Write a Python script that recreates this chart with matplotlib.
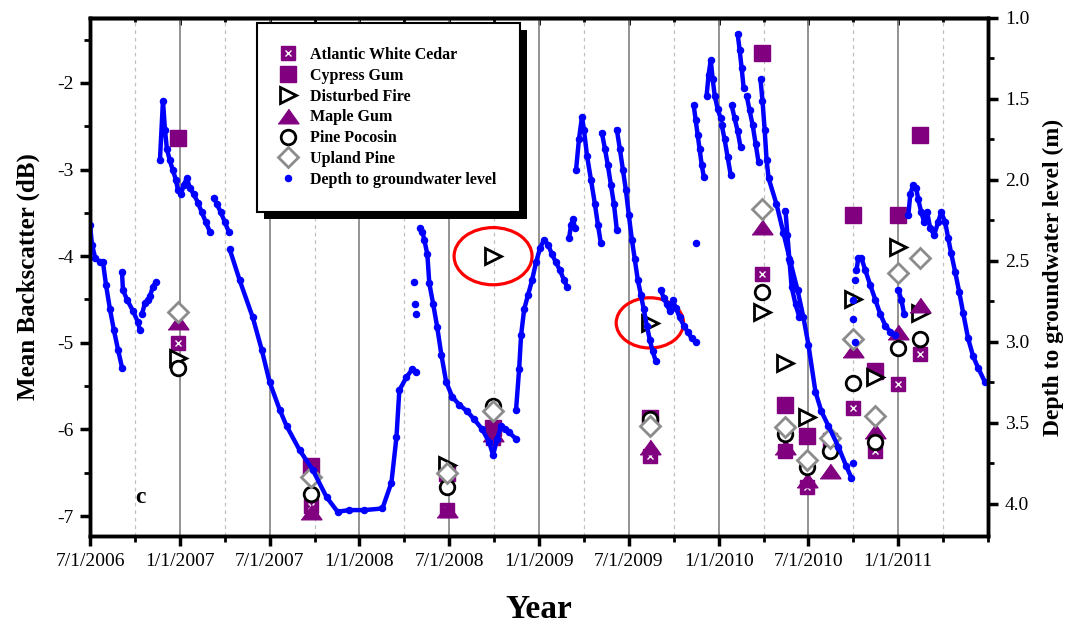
import numpy as np
import matplotlib
matplotlib.use('Agg')
import matplotlib.pyplot as plt
from matplotlib.patches import Ellipse, Rectangle
from matplotlib.lines import Line2D
from matplotlib.ticker import MultipleLocator, FormatStrFormatter
from matplotlib.transforms import IdentityTransform

plt.rcParams['font.family'] = ['Liberation Serif', 'DejaVu Serif']
plt.rcParams['axes.unicode_minus'] = False

N = np.nan

# SAR acquisition dates (decimal year) and mean backscatter (dB) per forest type
obs_year = [2006.989, 2007.733, 2008.489, 2008.744, 2009.617, 2010.244, 2010.372,
            2010.494, 2010.622, 2010.750, 2010.872, 2011.000, 2011.122]
white_cedar = [-5.00, -6.88, -6.93, -6.10, -6.31, -4.21, -6.25, -6.66, -6.12, -5.75, -6.25, -5.48, -5.13]
cypress_gum = [-2.63, -6.42, -6.50, -5.98, -5.87, -1.65, -5.72, -6.08, N, -3.52, -5.32, -3.52, -2.60]
disturbed_fire = [-5.17, N, -6.41, -4.00, -4.77, -4.65, -5.23, -5.86, N, -4.50, -5.40, -3.89, -4.66]
maple_gum = [-4.76, -6.95, -6.93, -6.05, -6.20, -3.66, -6.20, -6.58, -6.48, -5.08, -6.02, -4.87, -4.56]
pine_pocosin = [-5.29, -6.75, -6.66, -5.73, -5.88, -4.41, -6.05, -6.43, -6.25, -5.46, -6.15, -5.06, -4.96]
upland_pine = [-4.65, -6.55, -6.50, -5.79, -5.96, -3.46, -5.97, -6.35, -6.10, -4.96, -5.85, -4.19, -4.02]

# depth to groundwater (m); NaN separates runs of readings
gw_year = [
    2006.500, 2006.511, 2006.528, 2006.556, 2006.572, 2006.589, 2006.611, 2006.633, 2006.656, 2006.678, N,
    2006.678, 2006.683, 2006.706, 2006.739, 2006.767, 2006.778, N,
    2006.789, 2006.806, 2006.822, 2006.833, 2006.850, 2006.867, N,
    2006.889, 2006.906, 2006.917, 2006.928, 2006.944, 2006.961, 2006.978, 2006.989, 2007.006, 2007.022,
    2007.039, 2007.056, 2007.078, 2007.100, 2007.122, 2007.144, 2007.167, N,
    2007.189, 2007.206, 2007.228, 2007.250, 2007.272, N,
    2007.278, 2007.333, 2007.406, 2007.456, 2007.500, 2007.556, 2007.594, 2007.667, 2007.739, 2007.817,
    2007.878, 2007.944, 2008.028, 2008.128, 2008.178, 2008.206, 2008.222, 2008.261, 2008.294, 2008.317, N,
    2008.306, N, 2008.311, N, 2008.317, N,
    2008.339, 2008.350, 2008.361, 2008.378, 2008.389, 2008.411, 2008.433, 2008.456, 2008.483, 2008.517,
    2008.556, 2008.600, 2008.639, 2008.683, 2008.722, 2008.744, 2008.767, 2008.789, 2008.811, 2008.833,
    2008.872, N,
    2008.872, 2008.889, 2008.900, 2008.917, 2008.939, 2008.961, 2008.983, 2009.006, 2009.028, 2009.050,
    2009.072, 2009.094, 2009.117, 2009.139, 2009.156, N,
    2009.167, 2009.178, 2009.189, 2009.200, N,
    2009.206, 2009.222, 2009.239, 2009.250, 2009.267, 2009.289, 2009.311, 2009.328, 2009.344, N,
    2009.350, 2009.367, 2009.383, 2009.400, 2009.417, 2009.433, N,
    2009.433, 2009.450, 2009.467, 2009.483, 2009.500, 2009.517, 2009.533, 2009.550, 2009.567, 2009.583,
    2009.600, 2009.617, 2009.633, 2009.650, N,
    2009.678, 2009.694, 2009.711, 2009.728, 2009.744, 2009.761, 2009.783, 2009.806, 2009.828, 2009.850,
    2009.872, N,
    2009.872, N,
    2009.861, 2009.872, 2009.883, 2009.894, 2009.906, 2009.917, N,
    2009.933, 2009.944, 2009.956, 2009.967, 2009.978, 2009.994, 2010.011, N,
    2010.017, 2010.033, 2010.050, 2010.067, N,
    2010.072, 2010.089, 2010.106, 2010.122, N,
    2010.106, 2010.117, 2010.128, 2010.139, N,
    2010.156, 2010.172, 2010.189, 2010.206, 2010.222, N,
    2010.233, 2010.244, 2010.256, 2010.267, 2010.278, 2010.322, 2010.361, 2010.400, 2010.439, 2010.472,
    2010.500, 2010.539, 2010.572, 2010.611, 2010.667, 2010.711, 2010.739, N,
    2010.372, 2010.383, 2010.394, 2010.406, 2010.428, 2010.450, N,
    2010.750, N,
    2010.761, N, 2010.750, N, 2010.750, N, 2010.761, N,
    2010.767, 2010.778, 2010.794, 2010.817, 2010.844, 2010.872, 2010.900, 2010.928, 2010.956, 2010.983, N,
    2011.000, 2011.017, 2011.033, N,
    2011.056, 2011.067, 2011.083, 2011.100, 2011.111, 2011.128, 2011.144, 2011.161, 2011.178, 2011.200,
    2011.222, 2011.239, 2011.261, 2011.278, 2011.294, 2011.317, 2011.339, 2011.361, 2011.389, 2011.417,
    2011.444, 2011.483,
]
gw_depth = [
    2.28, 2.40, 2.48, 2.51, 2.51, 2.65, 2.80, 2.93, 3.05, 3.16, N,
    2.57, 2.68, 2.74, 2.81, 2.88, 2.93, N,
    2.83, 2.76, 2.74, 2.72, 2.66, 2.63, N,
    1.88, 1.51, 1.69, 1.81, 1.88, 1.94, 2.00, 2.06, 2.09, 2.03,
    1.99, 2.05, 2.09, 2.14, 2.20, 2.26, 2.32, N,
    2.11, 2.15, 2.20, 2.26, 2.32, N,
    2.43, 2.62, 2.85, 3.05, 3.25, 3.42, 3.52, 3.67, 3.79, 3.96,
    4.05, 4.04, 4.04, 4.03, 3.87, 3.59, 3.30, 3.22, 3.17, 3.19, N,
    2.63, N, 2.77, N, 2.83, N,
    2.30, 2.32, 2.37, 2.46, 2.64, 2.77, 2.91, 3.08, 3.25, 3.34,
    3.39, 3.43, 3.48, 3.54, 3.62, 3.70, 3.60, 3.52, 3.54, 3.56,
    3.60, N,
    3.42, 3.17, 2.96, 2.80, 2.71, 2.62, 2.51, 2.42, 2.37, 2.40,
    2.46, 2.51, 2.56, 2.62, 2.66, N,
    2.36, 2.28, 2.24, 2.30, N,
    1.94, 1.75, 1.61, 1.69, 1.85, 2.00, 2.15, 2.28, 2.39, N,
    1.71, 1.81, 1.91, 2.03, 2.15, 2.31, N,
    1.69, 1.81, 1.94, 2.06, 2.22, 2.37, 2.49, 2.62, 2.71, 2.80,
    2.90, 2.99, 3.06, 3.12, N,
    2.68, 2.73, 2.77, 2.81, 2.74, 2.79, 2.85, 2.90, 2.94, 2.98,
    3.00, N,
    2.39, N,
    1.54, 1.63, 1.72, 1.81, 1.91, 1.98, N,
    1.48, 1.35, 1.26, 1.38, 1.48, 1.56, 1.62, N,
    1.66, 1.75, 1.86, 1.97, N,
    1.54, 1.62, 1.70, 1.80, N,
    1.10, 1.20, 1.31, 1.43, N,
    1.48, 1.57, 1.66, 1.78, 1.89, N,
    1.38, 1.51, 1.69, 1.88, 1.99, 2.15, 2.33, 2.51, 2.68, 2.85,
    3.02, 3.31, 3.43, 3.52, 3.65, 3.77, 3.84, N,
    2.19, 2.34, 2.49, 2.66, 2.77, 2.85, N,
    3.75, N,
    2.62, N, 2.74, N, 2.86, N, 3.00, N,
    2.56, 2.48, 2.48, 2.56, 2.65, 2.74, 2.83, 2.90, 2.94, 2.96, N,
    2.68, 2.74, 2.83, N,
    2.22, 2.09, 2.03, 2.05, 2.12, 2.20, 2.26, 2.20, 2.30, 2.34,
    2.26, 2.20, 2.26, 2.36, 2.45, 2.57, 2.69, 2.82, 2.98, 3.09,
    3.16, 3.25,
]

tick_year = [2006.5, 2007.0, 2007.5, 2008.0, 2008.5, 2009.0, 2009.5, 2010.0, 2010.5, 2011.0]
tick_label = ['7/1/2006', '1/1/2007', '7/1/2007', '1/1/2008', '7/1/2008',
              '1/1/2009', '7/1/2009', '1/1/2010', '7/1/2010', '1/1/2011']
legend_labels = ['Atlantic White Cedar', 'Cypress Gum', 'Disturbed Fire', 'Maple Gum',
                 'Pine Pocosin', 'Upland Pine', 'Depth to groundwater level']

purple = '#800080'
gray = '#8c8c8c'
blue = '#0000ff'
tri = [(-1, -0.7), (1, -0.7), (0, 0.7)]

fig = plt.figure(figsize=(10.72, 6.26), dpi=100)
ax = fig.add_axes([0.0840, 0.1438, 0.8377, 0.8275])
ax2 = ax.twinx()

ax.plot(obs_year, cypress_gum, ls='none', marker='s', ms=11.5, color=purple, zorder=3)
ax.plot(obs_year, white_cedar, ls='none', marker='s', ms=10, color=purple, zorder=3)
ax.plot(obs_year, white_cedar, ls='none', marker='x', ms=5, mew=1, color='white', zorder=3)
ax.plot(obs_year, disturbed_fire, ls='none', marker='>', ms=12, mew=2, mec='black', mfc='white', zorder=3)
ax.plot(obs_year, maple_gum, ls='none', marker=tri, ms=15, color=purple, zorder=3)
ax.plot(obs_year, pine_pocosin, ls='none', marker='o', ms=10.5, mew=2, mec='black', mfc='white', zorder=3)
ax.plot(obs_year, upland_pine, ls='none', marker='D', ms=10, mew=2, mec=gray, mfc='white', zorder=3)

# the two disturbed-fire readings circled in red
for i, w, h in [(3, 0.434, 0.66), (4, 0.375, 0.58)]:
    ax.add_patch(Ellipse((obs_year[i], disturbed_fire[i]), w, h, fill=False,
                         edgecolor='red', lw=2.3, zorder=4))

ax2.plot(gw_year, gw_depth, '-o', color=blue, lw=3.2, ms=4.4, zorder=2)

ax.set_xlim(2006.5, 2011.5)
ax.set_ylim(-7.23, -1.25)
ax2.set_ylim(4.2, 1.0)

ax.set_xticks(tick_year)
ax.set_xticklabels(tick_label)
ax.xaxis.set_minor_locator(MultipleLocator(0.25))
ax.yaxis.set_major_locator(MultipleLocator(1))
ax.yaxis.set_minor_locator(MultipleLocator(0.5))
ax.yaxis.set_major_formatter(FormatStrFormatter('%d'))
ax2.yaxis.set_major_locator(MultipleLocator(0.5))
ax2.yaxis.set_minor_locator(MultipleLocator(0.25))
ax2.yaxis.set_major_formatter(FormatStrFormatter('%.1f'))

ax.grid(which='major', axis='x', color='#8a8a8a', lw=1.3)
ax.grid(which='minor', axis='x', color='#c0c0c0', lw=0.9, ls=(0, (3, 3)))

for a in (ax, ax2):
    a.tick_params(which='major', length=7, width=2.5, labelsize=14, pad=5)
    a.tick_params(which='minor', length=4, width=2)
    for s in a.spines.values():
        s.set_linewidth(2.5)

top = ax.secondary_xaxis('top')
top.set_xticks(tick_year)
top.xaxis.set_minor_locator(MultipleLocator(0.25))
top.tick_params(which='both', direction='in', labeltop=False, width=2)
top.tick_params(which='major', length=5)
top.tick_params(which='minor', length=3)
top.spines['top'].set_linewidth(2.5)

ax.text(0.0557, 0.075, 'c', transform=ax.transAxes, fontsize=17, fontweight='bold',
        ha='center', va='center')

ax.set_ylabel('Mean Backscatter (dB)', fontsize=18, fontweight='bold')
ax.yaxis.set_label_coords(-0.056, 0.5)
ax2.set_ylabel('Depth to groundwater level (m)', fontsize=17, fontweight='bold')
ax2.yaxis.set_label_coords(1.061, 0.5)
ax.set_xlabel('Year', fontsize=24, fontweight='bold')
ax.xaxis.set_label_coords(0.5, -0.112)

handles = [
    (Line2D([], [], ls='none', marker='s', ms=10, color=purple),
     Line2D([], [], ls='none', marker='x', ms=5, mew=1, color='white')),
    Line2D([], [], ls='none', marker='s', ms=11.5, color=purple),
    Line2D([], [], ls='none', marker='>', ms=12, mew=2, mec='black', mfc='white'),
    Line2D([], [], ls='none', marker=tri, ms=15, color=purple),
    Line2D([], [], ls='none', marker='o', ms=10.5, mew=2, mec='black', mfc='white'),
    Line2D([], [], ls='none', marker='D', ms=10, mew=2, mec=gray, mfc='white'),
    Line2D([], [], ls='none', marker='o', ms=4.4, color=blue),
]
leg = ax2.legend(handles, legend_labels, loc='upper left',
                 bbox_to_anchor=(257 / 1072, 1 - 23 / 626), bbox_transform=fig.transFigure,
                 borderaxespad=0, prop={'weight': 'bold', 'size': 11.5}, frameon=True,
                 fancybox=False, framealpha=1, edgecolor='black', borderpad=1.5,
                 labelspacing=0.3, handlelength=0.9, handletextpad=0.9)
leg.get_frame().set_linewidth(1.5)
leg.set_zorder(10)

# hard black drop shadow behind the legend box
fig.canvas.draw()
bb = leg.get_window_extent()
ax2.add_artist(Rectangle((bb.x0 + 7, bb.y0 - 7), bb.width, bb.height, transform=IdentityTransform(),
                         facecolor='black', edgecolor='none', zorder=9.9))

fig.savefig('out.png', dpi=100)
